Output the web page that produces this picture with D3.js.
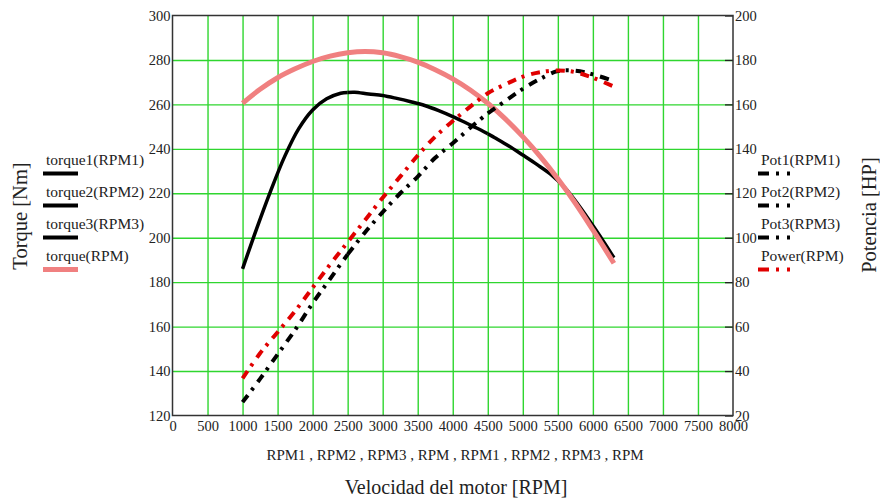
<html>
<head>
    <script src="https://d3js.org/d3.v7.min.js"></script>
    <style>
        body { margin: 0; background: #fff; }
        text { font-family: "Liberation Serif", "Times New Roman", serif; fill: #222; }
    </style>
</head>

<body>
    <svg id="chart"></svg>

    <script>
        // torque (Nm), three black pieces + the pink one
        var torque1 = [[1000,186],[1200,204],[1400,221],[1600,236.5],[1800,249],[2000,257.5],[2200,262.5],[2400,265],[2500,265.4]];
        var torque2 = [[2500,265.4],[2600,265.5],[2800,264.7],[3000,264],[3200,262.7],[3400,261.2],[3600,259.5],[3800,257.2],[4000,254.5],[4200,251.5],[4400,248.5],[4500,246.8]];
        var torque3 = [[4500,246.8],[4600,245],[4800,241.3],[5000,237.2],[5200,233],[5400,228.5],[5600,222.5],[5800,214.5],[6000,205.5],[6200,196],[6300,191]];
        var torqueAll = [[1000,260.5],[1250,266.8],[1500,272],[1750,276],[2000,279.3],[2250,281.7],[2500,283.2],[2750,283.8],[3000,283.2],[3250,281.5],[3500,279],[3750,275.6],[4000,271.5],[4250,266.5],[4500,260.5],[4750,253.5],[5000,245.5],[5250,236.5],[5500,226.5],[5750,215.5],[6000,203.5],[6300,188.5]];

        // power (HP)
        var pot1 = [[1000,26],[1250,36.5],[1500,47.5],[1750,58.5],[2000,70.5],[2250,81.5],[2500,92.5]];
        var pot2 = [[2500,92.5],[2750,102.5],[3000,111.5],[3250,120],[3500,127.5],[3750,136],[4000,142.5],[4250,149.5],[4500,156]];
        var pot3 = [[4500,156],[4750,161.5],[5000,167],[5250,171.5],[5500,175],[5750,175.2],[6000,173.5],[6300,170.5]];
        var powerAll = [[1000,36.7],[1250,48],[1500,57.5],[1750,67],[2000,77.5],[2250,88],[2500,98],[2750,108],[3000,118],[3250,127.5],[3500,137],[3750,145.5],[4000,152.5],[4250,159],[4500,165],[4750,169],[5000,172.5],[5250,174.5],[5500,175.3],[5750,174.5],[6000,172],[6300,168]];

        var xTicks = d3.range(0, 8001, 500);
        var torqueTicks = d3.range(120, 301, 20);
        var powerTicks = d3.range(20, 201, 20);

        var leftLegend = ["torque1(RPM1)", "torque2(RPM2)", "torque3(RPM3)", "torque(RPM)"];
        var rightLegend = ["Pot1(RPM1)", "Pot2(RPM2)", "Pot3(RPM3)", "Power(RPM)"];

        var W = 880, H = 499;
        var L = 172.5, R = 733, T = 15.5, B = 415.5;
        var Black = "#000", Pink = "#f08080", Red = "#e00000", Grid = "#2fd62f";
        var DashDot = "9,6,3,7";
        var Serif = "'Liberation Serif', 'Times New Roman', serif";

        var svg = d3.select("#chart").attr("width", W).attr("height", H);
        svg.append("rect").attr("width", W).attr("height", H).attr("fill", "#fff");

        var x = d3.scaleLinear().domain([0, 8000]).range([L, R]);
        var yT = d3.scaleLinear().domain([120, 300]).range([B, T]);
        var yP = d3.scaleLinear().domain([20, 200]).range([B, T]);

        // grid
        svg.append("g").attr("transform", "translate(0," + B + ")")
            .call(d3.axisBottom(x).tickValues(xTicks.slice(1, -1)).tickSize(-(B - T)).tickFormat(""))
            .call(function(g){ g.select(".domain").remove(); g.selectAll("line").attr("stroke", Grid).attr("stroke-width", 1.4); });
        svg.append("g").attr("transform", "translate(" + L + ",0)")
            .call(d3.axisLeft(yT).tickValues(torqueTicks.slice(1, -1)).tickSize(-(R - L)).tickFormat(""))
            .call(function(g){ g.select(".domain").remove(); g.selectAll("line").attr("stroke", Grid).attr("stroke-width", 1.4); });

        // axes with labels
        var axL = svg.append("g").attr("transform", "translate(" + L + ",0)")
            .call(d3.axisLeft(yT).tickValues(torqueTicks).tickSize(0).tickPadding(2));
        var axR = svg.append("g").attr("transform", "translate(" + R + ",0)")
            .call(d3.axisRight(yP).tickValues(powerTicks).tickSize(-8).tickPadding(0));
        var axB = svg.append("g").attr("transform", "translate(0," + B + ")")
            .call(d3.axisBottom(x).tickValues(xTicks).tickSize(0).tickPadding(5).tickFormat(d3.format("d")));
        [axL, axR, axB].forEach(function(a){
            a.attr("font-family", Serif).attr("font-size", 14.5);
            a.select(".domain").remove();
            a.selectAll("text").attr("fill", "#222");
            a.selectAll("line").attr("stroke", "#222").attr("stroke-width", 1.3);
        });
        axR.selectAll("text").attr("x", 2);

        svg.append("rect").attr("x", L).attr("y", T).attr("width", R - L).attr("height", B - T)
            .attr("fill", "none").attr("stroke", "#333").attr("stroke-width", 1.5);

        var lineT = d3.line().x(function(d){ return x(d[0]); }).y(function(d){ return yT(d[1]); }).curve(d3.curveCatmullRom);
        var lineP = d3.line().x(function(d){ return x(d[0]); }).y(function(d){ return yP(d[1]); }).curve(d3.curveCatmullRom);

        [torque1, torque2, torque3].forEach(function(s){
            svg.append("path").attr("d", lineT(s)).attr("fill", "none").attr("stroke", Black).attr("stroke-width", 3.5);
        });
        svg.append("path").attr("d", lineT(torqueAll)).attr("fill", "none").attr("stroke", Pink).attr("stroke-width", 5);
        [pot1, pot2, pot3].forEach(function(s){
            svg.append("path").attr("d", lineP(s)).attr("fill", "none").attr("stroke", Black).attr("stroke-width", 4)
                .attr("stroke-dasharray", DashDot);
        });
        svg.append("path").attr("d", lineP(powerAll)).attr("fill", "none").attr("stroke", Red).attr("stroke-width", 4)
            .attr("stroke-dasharray", DashDot);

        // legends
        leftLegend.forEach(function(name, i){
            var yy = 165 + i * 32;
            svg.append("text").attr("x", 46).attr("y", yy).style("font-size", "15.5px").text(name);
            svg.append("line").attr("x1", 43).attr("x2", 78).attr("y1", yy + 8.5).attr("y2", yy + 8.5)
                .attr("stroke", i == 3 ? Pink : Black).attr("stroke-width", i == 3 ? 5 : 4);
        });
        rightLegend.forEach(function(name, i){
            var yy = 165 + i * 32;
            svg.append("text").attr("x", 761).attr("y", yy).style("font-size", "15.5px").text(name);
            svg.append("line").attr("x1", 758).attr("x2", 793).attr("y1", yy + 8.5).attr("y2", yy + 8.5)
                .attr("stroke", i == 3 ? Red : Black).attr("stroke-width", 4)
                .attr("stroke-dasharray", "11,7,3,8,3,20");
        });

        // titles
        svg.append("text").attr("x", 455).attr("y", 460).attr("text-anchor", "middle")
            .style("font-size", "15px").text("RPM1 , RPM2 , RPM3 , RPM , RPM1 , RPM2 , RPM3 , RPM");
        svg.append("text").attr("x", 456).attr("y", 494).attr("text-anchor", "middle")
            .style("font-size", "20px").text("Velocidad del motor [RPM]");
        svg.append("text").attr("transform", "translate(27,216) rotate(-90)").attr("text-anchor", "middle")
            .style("font-size", "20.5px").text("Torque [Nm]");
        svg.append("text").attr("transform", "translate(876,215) rotate(-90)").attr("text-anchor", "middle")
            .style("font-size", "20.5px").text("Potencia [HP]");
    </script>
</body>
</html>
